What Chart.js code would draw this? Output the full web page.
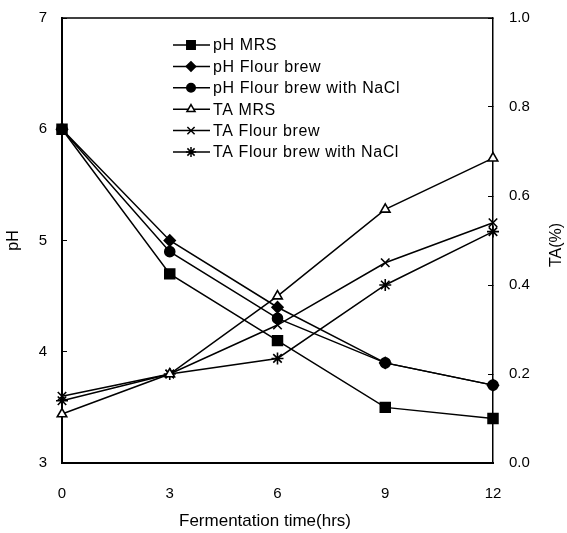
<!DOCTYPE html>
<html>
<head>
<meta charset="utf-8">
<script src="https://cdn.jsdelivr.net/npm/chart.js@4.4.1/dist/chart.umd.min.js"></script>
<style>
    html, body { margin: 0; padding: 0; background: #fff; }
    #wrap { width: 567px; height: 533px; }
</style>
</head>
<body>
<div id="wrap"><canvas id="acidChart" width="567" height="533"></canvas></div>
<script>
const hours = ["0", "3", "6", "9", "12"];

const phMrs = [6.0, 4.7, 4.1, 3.5, 3.4];
const phFlour = [6.0, 5.0, 4.4, 3.9, 3.7];
const phFlourNacl = [6.0, 4.9, 4.3, 3.9, 3.7];

const taMrs = [0.11, 0.2, 0.375, 0.57, 0.685];
const taFlour = [0.15, 0.2, 0.31, 0.45, 0.54];
const taFlourNacl = [0.14, 0.2, 0.235, 0.4, 0.52];

const FONT = "'Liberation Sans', Arial, sans-serif";

function series(label, data, axis, style, radius, fill) {
    return {
        label,
        data,
        yAxisID: axis,
        borderColor: "#000",
        borderWidth: 1.5,
        pointStyle: style,
        pointRadius: radius,
        pointHoverRadius: radius,
        pointBackgroundColor: fill,
        pointBorderColor: "#000",
        pointBorderWidth: 1.6,
        tension: 0,
        fill: false,
    };
}

// legend drawn inside the plot, like the original figure
const insideLegend = {
    id: "insideLegend",
    afterDraw(chart) {
        const { ctx, chartArea } = chart;
        const x0 = chartArea.left + 111;
        ctx.save();
        ctx.font = "16px " + FONT;
        ctx.letterSpacing = "0.6px";
        ctx.textBaseline = "middle";
        chart.data.datasets.forEach((ds, i) => {
            const y = chartArea.top + 27 + i * 21.4;
            ctx.strokeStyle = "#000";
            ctx.lineWidth = 1.5;
            ctx.beginPath();
            ctx.moveTo(x0, y);
            ctx.lineTo(x0 + 37, y);
            ctx.stroke();
            ctx.fillStyle = ds.pointBackgroundColor;
            Chart.helpers.drawPoint(ctx, {
                pointStyle: ds.pointStyle,
                radius: ds.pointRadius * 0.85,
                borderWidth: 1.5,
                rotation: 0,
            }, x0 + 18, y);
            ctx.fillStyle = "#000";
            ctx.fillText(ds.label, x0 + 40, y + 1);
        });
        ctx.restore();
    },
};

// top frame line + axis titles placed like the original
const frame = {
    id: "frame",
    afterDraw(chart) {
        const { ctx, chartArea } = chart;
        ctx.save();
        ctx.strokeStyle = "#000";
        ctx.lineWidth = 1.5;
        ctx.beginPath();
        ctx.moveTo(chartArea.left, chartArea.top);
        ctx.lineTo(chartArea.right, chartArea.top);
        ctx.stroke();

        ctx.fillStyle = "#000";
        ctx.textAlign = "center";
        ctx.textBaseline = "middle";
        ctx.font = "17px " + FONT;
        ctx.fillText("Fermentation time(hrs)", 265, 521);

        ctx.translate(557, 245);
        ctx.rotate(-Math.PI / 2);
        ctx.font = "16px " + FONT;
        ctx.fillText("TA(%)", 0, 0);
        ctx.restore();
    },
};

new Chart(document.getElementById("acidChart"), {
    type: "line",
    data: {
        labels: hours,
        datasets: [
            series("pH MRS", phMrs, "y", "rect", 7, "#000"),
            series("pH Flour brew", phFlour, "y", "rectRot", 5.5, "#000"),
            series("pH Flour brew with NaCl", phFlourNacl, "y", "circle", 5, "#000"),
            series("TA MRS", taMrs, "y1", "triangle", 5.5, "#fff"),
            series("TA Flour brew", taFlour, "y1", "crossRot", 6, "#000"),
            series("TA Flour brew with NaCl", taFlourNacl, "y1", "star", 6, "#000"),
        ],
    },
    options: {
        responsive: false,
        animation: false,
        layout: { padding: { top: 18, right: 0, left: 0, bottom: 0 } },
        plugins: {
            legend: { display: false },
            tooltip: { enabled: false },
        },
        scales: {
            x: {
                type: "category",
                offset: false,
                grid: { display: false },
                border: { display: true, color: "#000", width: 2 },
                ticks: { color: "#000", padding: 14, font: { family: FONT, size: 15 } },
                afterFit: (scale) => {
                    scale.height = 70;
                    scale.paddingLeft = 0;
                    scale.paddingRight = 0;
                },
            },
            y: {
                position: "left",
                min: 3,
                max: 7,
                ticks: { stepSize: 1, color: "#000", padding: 20, font: { family: FONT, size: 15 } },
                grid: { drawOnChartArea: false, drawTicks: true, tickLength: -5, color: "#000", lineWidth: 1 },
                border: { display: true, color: "#000", width: 2 },
                title: {
                    display: true,
                    text: "pH",
                    color: "#000",
                    font: { family: FONT, size: 16 },
                    padding: { top: 4, bottom: 0 },
                },
                afterFit: (scale) => {
                    scale.width = 62;
                    scale.paddingTop = 0;
                    scale.paddingBottom = 0;
                },
            },
            y1: {
                position: "right",
                min: 0,
                max: 1,
                ticks: {
                    stepSize: 0.2,
                    color: "#000",
                    padding: 21,
                    font: { family: FONT, size: 15 },
                    callback: (v) => Number(v).toFixed(1),
                },
                grid: { drawOnChartArea: false, drawTicks: true, tickLength: -5, color: "#000", lineWidth: 1 },
                border: { display: true, color: "#000", width: 1.5 },
                afterFit: (scale) => {
                    scale.width = 74;
                    scale.paddingTop = 0;
                    scale.paddingBottom = 0;
                },
            },
        },
    },
    plugins: [insideLegend, frame],
});
</script>
</body>
</html>
